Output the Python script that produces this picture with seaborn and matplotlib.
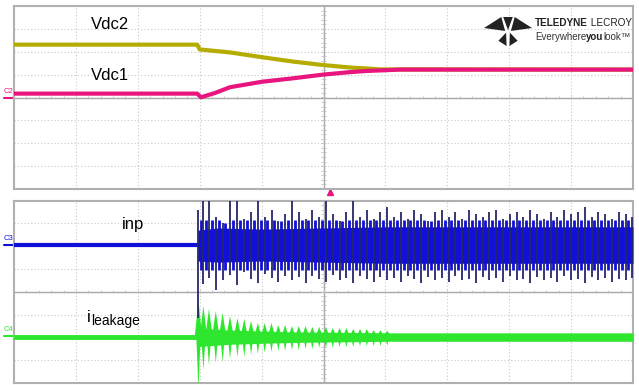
import numpy as np
import matplotlib.pyplot as plt
import seaborn as sns
from matplotlib.patches import Polygon

sns.set_theme(style="white")
plt.rcParams['font.family'] = ['Liberation Sans', 'DejaVu Sans']

# scope screen units: time in divisions (0..10), amplitude in divisions (-4..4)
vdc2_t = [0.0, 2.96, 3.00, 3.49, 4.01, 4.51, 4.99, 5.43, 5.70, 5.91, 10.0]
vdc2_v = [2.31, 2.31, 2.10, 1.97, 1.76, 1.57, 1.42, 1.31, 1.27, 1.23, 1.22]
vdc1_t = [0.0, 2.96, 3.02, 3.25, 3.49, 4.01, 4.51, 4.99, 5.43, 5.70, 6.24, 10.0]
vdc1_v = [0.17, 0.17, 0.01, 0.20, 0.45, 0.69, 0.84, 1.00, 1.11, 1.16, 1.22, 1.22]

t_switch = 2.97
inp_base = 2.05
leak_base = -1.98

# switching pulses after the step
pulse_t = [2.98, 3.06, 3.15, 3.26, 3.37, 3.49, 3.61, 3.72, 3.83, 3.94, 4.05, 4.16,
           4.27, 4.38, 4.49, 4.60, 4.71, 4.82, 4.93, 5.04, 5.15, 5.26, 5.37, 5.48,
           5.59, 5.70, 5.81, 5.92, 6.03, 6.14, 6.25, 6.36, 6.47, 6.58, 6.69, 6.80,
           6.91, 7.02, 7.13, 7.24, 7.35, 7.46, 7.57, 7.68, 7.79, 7.90, 8.01, 8.12,
           8.23, 8.34, 8.45, 8.56, 8.67, 8.78, 8.89, 9.00, 9.11, 9.22, 9.33, 9.44,
           9.55, 9.66, 9.77, 9.88, 9.98]
inp_up = [3.6, 4.3, 4.3, 3.3, 3.0, 4.3, 4.3, 3.2, 3.5, 4.3, 3.3, 3.6, 3.1, 3.4, 4.3,
          3.5, 3.2, 3.6, 3.3, 4.3, 3.4, 3.1, 3.5, 4.3, 3.3, 3.6, 3.2, 3.5, 3.7, 3.3,
          3.5, 3.2, 3.6, 3.4, 3.1, 3.5, 3.6, 3.3, 3.5, 3.2, 3.6, 3.4, 3.3, 3.5, 3.6,
          3.2, 3.4, 3.5, 3.3, 3.6, 3.4, 3.2, 3.5, 3.3, 3.6, 3.4, 3.5, 3.7, 3.3, 3.5,
          3.4, 3.2, 3.5, 3.4, 3.3]
inp_dn = [-1.15, 0.35, 0.6, 0.1, 0.5, 0.75, 0.3, 0.85, 0.55, 0.4, 0.8, 0.6, 0.45,
          0.7, 0.5, 0.65, 0.4, 0.7, 0.55, 0.45, 0.75, 0.5, 0.6, 0.4, 0.7, 0.55, 0.45,
          0.65, 0.5, 0.6, 0.45, 0.7, 0.55, 0.4, 0.65, 0.5, 0.6, 0.45, 0.7, 0.5, 0.55,
          0.4, 0.65, 0.5, 0.6, 0.45, 0.7, 0.5, 0.55, 0.4, 0.65, 0.5, 0.6, 0.45, 0.7,
          0.5, 0.55, 0.4, 0.65, 0.5, 0.6, 0.45, 0.55, 0.5, 0.6]
inp_env_t = [2.97, 3.3, 4.0, 5.0, 6.0, 8.0, 10.0]
inp_env_hi = [2.7, 2.8, 2.75, 2.8, 2.85, 2.85, 2.85]
inp_env_lo = [1.35, 1.3, 1.35, 1.3, 1.25, 1.25, 1.25]

leak_up = [-0.36, -0.62, -0.75, -0.84, -0.93, -1.06, -1.15, -1.19, -1.28, -1.37,
           -1.37, -1.37, -1.46, -1.46, -1.50, -1.50, -1.50, -1.54, -1.54, -1.54,
           -1.59, -1.59, -1.59, -1.63, -1.63, -1.63, -1.68, -1.68, -1.70]
leak_dn = [-4.3, -3.43, -3.21, -3.12, -3.08, -2.95, -2.86, -2.86, -2.77, -2.73,
           -2.68, -2.64, -2.60, -2.60, -2.56, -2.56, -2.51, -2.51, -2.46, -2.46,
           -2.46, -2.42, -2.42, -2.42, -2.38, -2.38, -2.38, -2.38, -2.36]
leak_env_t = [2.97, 3.5, 4.5, 6.05, 6.1, 10.0]
leak_env_hi = [-1.6, -1.68, -1.76, -1.8, -1.8, -1.8]
leak_env_lo = [-2.4, -2.3, -2.22, -2.17, -2.17, -2.17]

c_olive = "#b4ad00"
c_mag = "#e8157f"
c_blue = "#1010d8"
c_navy = "#26266a"
c_green = "#2ee62e"
logo_font = ["Liberation Sans Narrow", "Liberation Sans"]


def scope_grid(ax):
    ax.set_xlim(0, 10)
    ax.set_ylim(-4, 4)
    ax.set_xticks([])
    ax.set_yticks([])
    for k in range(1, 10):
        if k == 5:
            ax.axvline(k, color="#a8a8a8", lw=1.0, zorder=1)
        else:
            ax.axvline(k, color="#c8c8c8", lw=0.8, ls=(0, (1, 2)), zorder=1)
    for k in range(-3, 4):
        if k == 0:
            ax.axhline(k, color="#a8a8a8", lw=1.0, zorder=1)
        else:
            ax.axhline(k, color="#c8c8c8", lw=0.8, ls=(0, (1, 2)), zorder=1)
    ax.vlines(np.arange(0.2, 10, 0.2), -0.07, 0.07, color="#c0c0c0", lw=0.6, zorder=1)
    ax.hlines(np.arange(-3.8, 4, 0.2), 4.96, 5.04, color="#c0c0c0", lw=0.6, zorder=1)
    for s in ax.spines.values():
        s.set_color("#b0b0b0")
        s.set_linewidth(1.5)


def ch_marker(ax, level, name, color):
    ax.plot([-0.16, 0.0], [level, level], color=color, lw=1.5, clip_on=False)
    ax.text(-0.17, level + 0.12, name, color=color, fontsize=5.5,
            ha="left", va="bottom", clip_on=False)


fig = plt.figure(figsize=(6.39, 3.85), dpi=100)
ax1 = fig.add_axes([14 / 639, 1 - 189 / 385, 619 / 639, 183 / 385])
ax2 = fig.add_axes([14 / 639, 1 - 383 / 385, 619 / 639, 182.4 / 385])
for ax in (ax1, ax2):
    scope_grid(ax)

# top panel: dc link voltages
sns.lineplot(x=vdc2_t, y=vdc2_v, ax=ax1, color=c_olive, lw=3.0,
             estimator=None, sort=False, zorder=3)
sns.lineplot(x=vdc1_t, y=vdc1_v, ax=ax1, color=c_mag, lw=3.0,
             estimator=None, sort=False, zorder=4)
ax1.text(1.55, 3.17, "Vdc2", fontsize=12, ha="center", va="center", color="black")
ax1.text(1.55, 0.94, "Vdc1", fontsize=12, ha="center", va="center", color="black")
ch_marker(ax1, 0.0, "C2", c_mag)
ax1.plot([5.1], [-4.13], marker="^", ms=5, color=c_mag, clip_on=False)

# bottom panel: input current
sns.lineplot(x=[0, t_switch], y=[inp_base, inp_base], ax=ax2, color=c_blue,
             lw=3.0, estimator=None, zorder=3)
ax2.fill_between(inp_env_t, inp_env_lo, inp_env_hi, color=c_blue, lw=0, zorder=3)
for t, up, dn in zip(pulse_t, inp_up, inp_dn):
    ax2.vlines(t + 0.045, max(dn, 0.95), min(up, 3.15), color=c_blue, lw=2.0, zorder=3)
    ax2.vlines(t, dn, up, color=c_navy, lw=1.3, zorder=4)
ax2.text(1.93, 2.93, "inp", fontsize=12, ha="center", va="center", color="black")
ch_marker(ax2, inp_base, "C3", c_blue)

# bottom panel: leakage current
sns.lineplot(x=[0, t_switch], y=[leak_base, leak_base], ax=ax2, color=c_green,
             lw=3.5, estimator=None, zorder=3)
ax2.fill_between(leak_env_t, leak_env_lo, leak_env_hi, color=c_green, lw=0, zorder=3)
for t, up, dn in zip(pulse_t, leak_up, leak_dn):
    ax2.add_patch(Polygon([(t - 0.06, leak_base), (t - 0.03, (up + leak_base) / 2),
                           (t, up), (t + 0.03, (up + leak_base) / 2),
                           (t + 0.06, leak_base)],
                          closed=True, color=c_green, lw=0, zorder=3))
    ax2.add_patch(Polygon([(t - 0.035, leak_base), (t, dn), (t + 0.035, leak_base)],
                          closed=True, color=c_green, lw=0, zorder=3))
ax2.text(1.18, -1.32, "i", fontsize=12, ha="left", va="baseline", color="black")
ax2.text(1.25, -1.45, "leakage", fontsize=10, ha="left", va="baseline", color="black")
ch_marker(ax2, -1.94, "C4", c_green)

# brand mark
lg = fig.add_axes([484 / 639, 1 - 46 / 385, 48 / 639, 29 / 385])
lg.set_xlim(0, 1)
lg.set_ylim(0, 1)
lg.axis("off")
for pts in ([(0.0, 0.62), (0.36, 1.0), (0.44, 0.52)],
            [(1.0, 0.62), (0.64, 1.0), (0.56, 0.52)],
            [(0.40, 1.0), (0.60, 1.0), (0.5, 0.55)],
            [(0.46, 0.46), (0.30, 0.18), (0.47, 0.0)],
            [(0.54, 0.46), (0.70, 0.18), (0.53, 0.0)]):
    lg.add_patch(Polygon(pts, closed=True, color="#222222", lw=0))

t1 = fig.text(535 / 639, 1 - 23 / 385, "TELEDYNE", fontsize=7.2, fontweight="bold",
              family=logo_font, color="#222222", va="center", ha="left")
ax1.annotate(" LECROY", xy=(1, 0.5), xycoords=t1, va="center", ha="left",
             fontsize=7.2, family=logo_font, color="#222222")
t2 = fig.text(535 / 639, 1 - 37 / 385, "Everywhere", fontsize=7,
              family=logo_font, color="#333333", va="center", ha="left")
t3 = ax1.annotate("you", xy=(1, 0.5), xycoords=t2, va="center", ha="left",
                  fontsize=7, fontweight="bold", family=logo_font, color="#222222")
ax1.annotate("look\u2122", xy=(1, 0.5), xycoords=t3, va="center", ha="left",
             fontsize=7, family=logo_font, color="#333333")

fig.savefig("out.png", dpi=100, facecolor="white")
